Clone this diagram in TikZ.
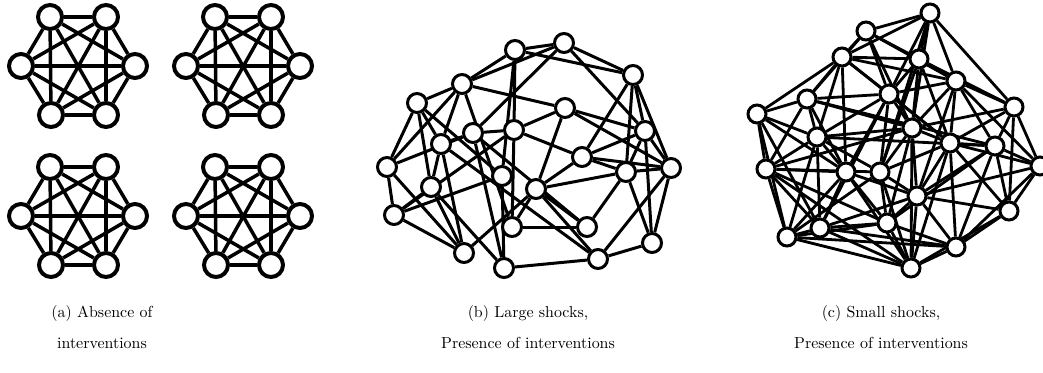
\documentclass[tikz,border=0pt]{standalone}
\usetikzlibrary{backgrounds}

\begin{document}
\begin{tikzpicture}[
  x=1pt, y=-1pt,
  vtxa/.style={circle, draw, fill=white, line width=4pt, inner sep=0pt, minimum size=24pt},
  vtxb/.style={circle, draw, fill=white, line width=3pt, inner sep=0pt, minimum size=19pt},
  vtxc/.style={vtxb, minimum size=18pt},
  linka/.style={line width=3.5pt},
  linkb/.style={line width=3pt},
  linkc/.style={line width=2.8pt},
  capt/.style={align=center, font=\fontsize{10}{19.4}\selectfont, scale=1.595, transform shape}
]
\useasboundingbox (0,0) rectangle (1043,372);

% (a) four separate complete graphs
\foreach \g/\dx/\dy in {1/0/0, 2/165/0, 3/0/150, 4/165/150} {
  \foreach \n/\x/\y in {1/50/17, 2/106/17, 3/21/66, 4/135/66, 5/51/115, 6/106/115}
    \node[vtxa] (a\g-\n) at (\x+\dx,\y+\dy) {};
  \begin{pgfonlayer}{background}
  \foreach \u/\v in {1/2,1/3,1/4,1/5,1/6,2/3,2/4,2/5,2/6,3/4,3/5,3/6,4/5,4/6,5/6}
    \draw[linka] (a\g-\u) -- (a\g-\v);
  \end{pgfonlayer}
}

% (b) large shocks
\foreach \n/\x/\y in {1/564/43, 2/515/50, 3/633/75, 4/462/84, 5/417/103, 6/565/108,
  7/645/131, 8/514/130, 9/473/133, 10/441/144, 11/582/157, 12/387/167,
  13/671/168, 14/626/172, 15/502/176, 16/536/189, 17/431/187, 18/394/215,
  19/512/227, 20/587/227, 21/652/243, 22/464/253, 23/598/259, 24/504/268}
  \node[vtxb] (b\n) at (\x,\y) {};
\begin{pgfonlayer}{background}
\foreach \u/\v in {1/2,1/3,1/4,1/7,1/9, 2/3,2/4,2/8,2/15, 3/7,3/11,3/13,3/14,
  4/5,4/6,4/10,4/12,4/19, 5/10,5/12,5/15,5/17, 6/7,6/8,6/13,6/16,
  7/11,7/13,7/14,7/21, 8/9,8/11,8/19,8/18, 9/10,9/12,9/24,9/20,
  10/17,10/22,10/23, 11/13,11/14,11/16, 12/18,12/22, 13/14,13/21,13/23,
  14/16,14/20,14/21, 15/18,15/24, 16/19,16/20,16/23,16/22,
  17/18,17/22,17/24, 18/22, 19/20, 21/23, 23/24}
  \draw[linkb] (b\u) -- (b\v);
\end{pgfonlayer}

% (c) small shocks
\foreach \n/\x/\y in {1/930/13, 2/866/31, 3/842/57, 4/919/59, 5/956/81, 6/889/94,
  7/807/99, 8/757/114, 9/1014/107, 10/912/128, 11/817/137, 12/950/143,
  13/995/146, 14/1040/166, 15/766/169, 16/846/172, 17/880/172, 18/917/196,
  19/1009/211, 20/887/223, 21/820/228, 22/787/237, 23/956/247, 24/911/268}
  \node[vtxc] (c\n) at (\x,\y) {};
\begin{pgfonlayer}{background}
\foreach \u/\v in {1/2,1/3,1/4,1/5,1/6,1/9,1/10,1/17,
  2/3,2/4,2/6,2/7,2/10,2/5, 3/4,3/7,3/8,3/6,3/11,3/16,3/12,3/5,
  4/5,4/6,4/10,4/9,4/12,4/17, 5/6,5/9,5/12,5/13,5/18,5/14,5/10,
  6/7,6/10,6/11,6/12,6/16,6/17,6/21, 7/8,7/11,7/15,7/16,7/10,7/13,
  8/15,8/11,8/16,8/22,8/21, 9/12,9/13,9/14,9/19,9/10,
  10/11,10/12,10/17,10/18,10/20,10/15,10/24, 11/15,11/16,11/17,11/21,11/22,11/13,
  12/13,12/17,12/18,12/19,12/23,12/14,12/24, 13/14,13/18,13/19,13/23,13/20,
  14/19,14/18,14/23, 15/16,15/17,15/21,15/22,15/24,15/20,
  16/17,16/20,16/21,16/22,16/24,16/18, 17/18,17/20,17/24,17/22,
  18/19,18/20,18/23,18/24,18/21, 19/23,19/24, 20/21,20/22,20/23,20/24,
  21/22,21/24,21/23, 22/24,22/23, 23/24}
  \draw[linkc] (c\u) -- (c\v);
\end{pgfonlayer}

% captions
\node[capt] (capa) at (102,327) {(a) Absence of\\interventions};
\node[capt] (capb) at (528,327) {(b) Large shocks,\\Presence of interventions};
\node[capt] (capc) at (881,327) {(c) Small shocks,\\Presence of interventions};
\end{tikzpicture}
\end{document}
